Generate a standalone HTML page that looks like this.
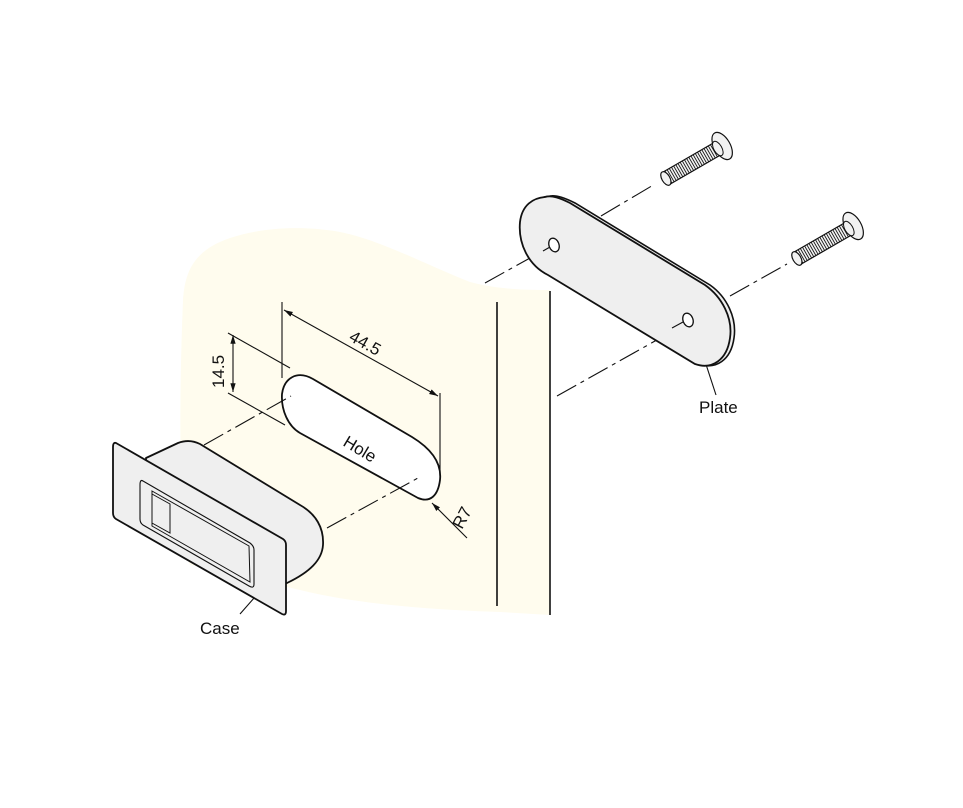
<!DOCTYPE html>
<html><head><meta charset="utf-8"><style>
html,body{margin:0;padding:0;background:#fff;width:963px;height:808px;overflow:hidden}
text{font-family:"Liberation Sans",sans-serif;font-size:17px;fill:#111}
</style></head><body>
<svg width="963" height="808" viewBox="0 0 963 808" xmlns="http://www.w3.org/2000/svg">
<defs>
<marker id="ar" viewBox="0 0 10 10" refX="10" refY="5" markerWidth="8" markerHeight="8" orient="auto-start-reverse"><path d="M0,2 L10,5 L0,8 z" fill="#111"/></marker>
<g id="screw">
  <rect x="0" y="-7" width="60" height="14" fill="#f2f2f2" stroke="#111" stroke-width="1.2"/>
  <g stroke="#111" stroke-width="0.9">
    <path d="M4,-7v14M6.5,-7v14M9,-7v14M11.5,-7v14M14,-7v14M16.5,-7v14M19,-7v14M21.5,-7v14M24,-7v14M26.5,-7v14M29,-7v14M31.5,-7v14M34,-7v14M36.5,-7v14M39,-7v14M41.5,-7v14M44,-7v14M46.5,-7v14M49,-7v14M51.5,-7v14M54,-7v14M56.5,-7v14"/>
  </g>
  <ellipse cx="1" cy="0" rx="4" ry="7.5" fill="#f2f2f2" stroke="#111" stroke-width="1.2"/>
  <ellipse cx="66" cy="0" rx="8" ry="15" fill="#f2f2f2" stroke="#111" stroke-width="1.2"/>
  <ellipse cx="61" cy="0" rx="4" ry="8" fill="#f2f2f2" stroke="#111" stroke-width="1"/>
</g>
</defs>
<!-- wall -->
<path d="M183,300 C185,270 195,250 230,238 C260,228 300,225 340,232 C380,240 420,262 470,282 C500,290 530,290 550,290 L550,615 L500,612 C440,610 360,605 300,590 C250,578 220,570 190,565 C180,540 178,420 183,300 Z" fill="#fffcee"/>
<line x1="497" y1="302" x2="497" y2="606" stroke="#111" stroke-width="1.6"/>
<line x1="550" y1="291" x2="550" y2="615" stroke="#111" stroke-width="1.6"/>
<!-- hole -->
<path d="M313,379 L412,437 C430,448 442,462 440,480 C438,496 430,503 418,498 L300,433 C288,426 281,410 282,394 C284,378 297,370 313,379 Z" fill="#fff" stroke="#111" stroke-width="1.8"/>
<!-- dash-dot lines -->
<g stroke="#111" stroke-width="1.1" stroke-dasharray="22,5,4,5" fill="none">
<line x1="204" y1="445" x2="291" y2="396"/>
<line x1="327" y1="528" x2="418" y2="478"/>
<line x1="485" y1="283" x2="557" y2="243"/>
<line x1="601" y1="216" x2="655" y2="184"/>
<line x1="557" y1="396" x2="680" y2="327"/>
<line x1="730" y1="296" x2="787" y2="264"/>
</g>
<!-- dimensions -->
<g stroke="#111" stroke-width="1.1" fill="none">
<line x1="282" y1="302" x2="282" y2="378"/>
<line x1="440" y1="393" x2="440" y2="476"/>
<line x1="284" y1="310" x2="438" y2="396" marker-start="url(#ar)" marker-end="url(#ar)"/>
<line x1="228" y1="333" x2="290" y2="368"/>
<line x1="228" y1="393" x2="285" y2="425"/>
<line x1="233" y1="335" x2="233" y2="392" marker-start="url(#ar)" marker-end="url(#ar)"/>
<line x1="467" y1="538" x2="432" y2="503" marker-end="url(#ar)"/>
<line x1="240" y1="614" x2="262" y2="589"/>
<line x1="716" y1="395" x2="701" y2="349"/>
</g>
<text transform="translate(348,340) rotate(29)">44.5</text>
<text transform="translate(224,388) rotate(-90)">14.5</text>
<text transform="translate(342,445) rotate(31)">Hole</text>
<text transform="translate(462,530) rotate(-62)">R7</text>
<text x="200" y="634">Case</text>
<text x="699" y="413">Plate</text>
<!-- case body -->
<path d="M146,458 L178,443 C186,440 194,441 200,444 L300,505 C316,514 324,528 323,545 C322,560 310,572 287,583 L270,590 L146,520 Z" fill="#efefef" stroke="#111" stroke-width="1.8" stroke-linejoin="round"/>
<path d="M116,443 L283,539 Q286,541 286,545 L286,611 Q286,616 282,614 L116,519 Q113,517 113,513 L113,447 Q113,442 116,443 Z" fill="#efefef" stroke="#111" stroke-width="1.8"/>
<path d="M143,481 L250,543 Q254,546 254,550 L254,584 Q254,589 249,586 L143,525 Q140,523 140,519 L140,485 Q140,479 143,481 Z" fill="#efefef" stroke="#111" stroke-width="1.1"/>
<path d="M152,491 L249,546 L250,582 L152,526 Z" fill="#efefef" stroke="#111" stroke-width="1"/>
<path d="M152,494 L170,504 L170,533 L152,523 Z" fill="#efefef" stroke="#111" stroke-width="1"/>
<!-- plate -->
<path d="M550,196 C557,195 565,198 575,203 L710,285 C727,297 737,318 734,338 C731,360 716,370 699,364 L552,275 C532,265 522,243 524,222 C526,205 537,197 550,196 Z" fill="#efefef" stroke="#111" stroke-width="1.6"/>
<path d="M545,197 C552,195 560,198 570,203 L705,285 C722,297 733,318 730,338 C727,360 712,370 695,364 L548,275 C528,265 518,243 520,222 C522,205 533,198 545,197 Z" fill="#efefef" stroke="#111" stroke-width="1.8"/>
<ellipse cx="554" cy="245" rx="5" ry="7" transform="rotate(-20 554 245)" fill="#fff" stroke="#111" stroke-width="1.3"/>
<ellipse cx="688" cy="320" rx="5" ry="7" transform="rotate(-20 688 320)" fill="#fff" stroke="#111" stroke-width="1.3"/>
<line x1="543" y1="251" x2="550" y2="247" stroke="#111" stroke-width="1.1"/>
<line x1="672" y1="328" x2="683" y2="322" stroke="#111" stroke-width="1.1"/>
<!-- screws -->
<use href="#screw" transform="translate(665,179) rotate(-30)"/>
<use href="#screw" transform="translate(796,259) rotate(-30)"/>
</svg>
</body></html>
